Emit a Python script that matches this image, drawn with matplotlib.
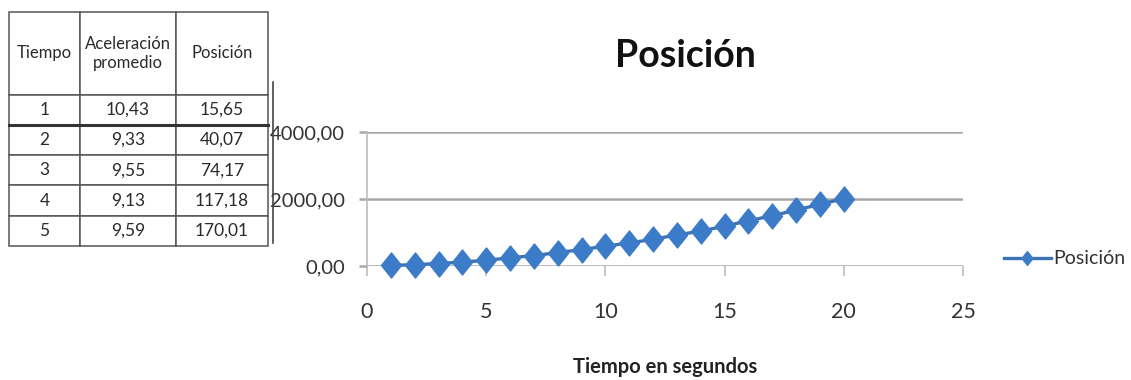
import matplotlib
matplotlib.use("Agg")
import matplotlib.pyplot as plt
from matplotlib.path import Path
from matplotlib.lines import Line2D
from matplotlib.ticker import FuncFormatter

plt.rcParams['font.family'] = ['Lato', 'DejaVu Sans']

# --- Data -------------------------------------------------------------
tiempo = list(range(1, 21))
posicion = [15.65, 40.07, 74.17, 117.18, 170.01, 245, 310, 400, 490, 590,
            690, 795, 930, 1040, 1190, 1350, 1500, 1670, 1840, 2010]

tabla_tiempo = ["1", "2", "3", "4", "5"]
tabla_aceleracion = ["10,43", "9,33", "9,55", "9,13", "9,59"]
tabla_posicion = ["15,65", "40,07", "74,17", "117,18", "170,01"]
tabla_encabezado = ["Tiempo", "Aceleración\npromedio", "Posición"]

x_ticks = [0, 5, 10, 15, 20, 25]
y_ticks = [0, 2000, 4000]

W, H = 1131, 380
fig = plt.figure(figsize=(W / 100, H / 100), dpi=100)
fig.patch.set_facecolor("white")

def fx(px):
    return px / W

def fy(py):
    return 1 - py / H

# --- Chart ------------------------------------------------------------
ax = fig.add_axes([fx(367), fy(266), fx(963) - fx(367), fy(132) - fy(266)])
ax.set_xlim(0, 25)
ax.set_ylim(0, 4000)

grid_col = "#a8a8a8"
ax.set_yticks(y_ticks)
ax.set_xticks(x_ticks)
ax.yaxis.grid(True, color=grid_col, linewidth=1.8)
ax.set_axisbelow(True)
for s in ["top", "right", "bottom"]:
    ax.spines[s].set_visible(False)
ax.spines["left"].set_color("#bdbdbd")
ax.spines["left"].set_linewidth(1.2)
ax.tick_params(axis="y", length=6, width=1.8, color=grid_col,
               labelsize=14.5, labelcolor="#333333", pad=10)
ax.tick_params(axis="x", length=7, width=1.2, color="#bdbdbd",
               labelsize=15.5, labelcolor="#333333", pad=19)
ax.yaxis.set_major_formatter(FuncFormatter(lambda v, p: f"{v:.2f}".replace(".", ",")))

diamond = Path([(0, 1), (0.8, 0), (0, -1), (-0.8, 0), (0, 1)],
               [Path.MOVETO, Path.LINETO, Path.LINETO, Path.LINETO, Path.CLOSEPOLY])
line_col = "#3f72b5"
marker_col = "#3b7bc8"
ax.plot(tiempo, posicion, color=line_col, linewidth=2.4,
        marker=diamond, markersize=18, markerfacecolor=marker_col,
        markeredgecolor=marker_col, clip_on=False, zorder=3, label="Posición")

ax.set_xlabel("Tiempo en segundos", fontsize=14.5, fontweight="bold",
              color="#222222", labelpad=25)
fig.text(fx(685), fy(56), "Posición", fontsize=27, fontweight="bold",
         ha="center", va="center", color="#111111")

leg = ax.legend(loc="center left", bbox_to_anchor=(fx(1004), fy(259)),
                bbox_transform=fig.transFigure, frameon=False,
                fontsize=14, handlelength=2.4, handletextpad=0.15,
                borderaxespad=0, borderpad=0, markerscale=0.55)
for t in leg.get_texts():
    t.set_color("#333333")

# frame edge left of the chart
fig.add_artist(Line2D([fx(273), fx(273)], [fy(82), fy(243)],
                      color="#444444", linewidth=1.2))

# --- Table ------------------------------------------------------------
tab_ax = fig.add_axes([fx(9), fy(246), fx(268) - fx(9), fy(12) - fy(246)])
tab_ax.axis("off")
rows = [list(r) for r in zip(tabla_tiempo, tabla_aceleracion, tabla_posicion)]
col_w = [71, 96, 92]
tot_w = sum(col_w)
tbl = tab_ax.table(cellText=rows, colLabels=tabla_encabezado,
                   colWidths=[w / tot_w for w in col_w],
                   cellLoc="center", bbox=[0, 0, 1, 1])
tbl.auto_set_font_size(False)
header_h, row_h = 82, 30
for (r, c), cell in tbl.get_celld().items():
    cell.set_edgecolor("#555555")
    cell.set_linewidth(1.1)
    cell.set_height(header_h if r == 0 else row_h)
    txt = cell.get_text()
    txt.set_color("#2a2a2a")
    txt.set_fontsize(12 if r == 0 else 12.5)
    if r == 0:
        txt.set_linespacing(1.25)

# heavier rule below the first data row
rule_y = 1 - (header_h + row_h) / (header_h + 5 * row_h)
tab_ax.plot([0, 1], [rule_y, rule_y], transform=tab_ax.transAxes,
            color="#333333", linewidth=2.2, clip_on=False)

fig.savefig("out.png", dpi=100, facecolor="white")
